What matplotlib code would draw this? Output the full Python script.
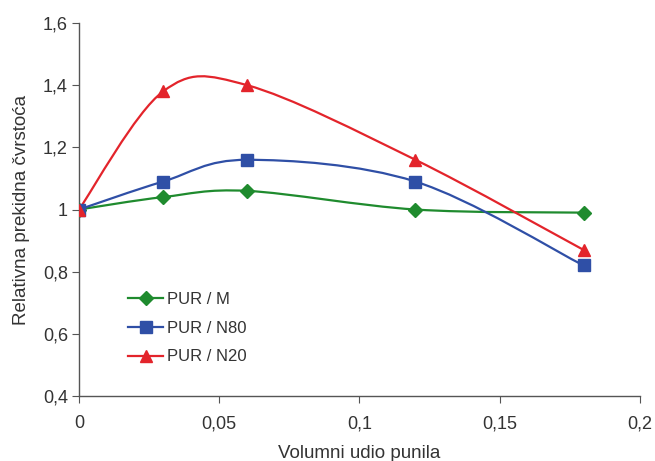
import numpy as np
import matplotlib.pyplot as plt
from matplotlib.path import Path
from matplotlib.patches import PathPatch
from matplotlib.lines import Line2D

plt.rcParams['font.family'] = ['Liberation Sans', 'DejaVu Sans']

# data
x_vals = [0, 0.03, 0.06, 0.12, 0.18]
pur_m = [1.0, 1.04, 1.06, 1.0, 0.99]
pur_n80 = [1.0, 1.09, 1.16, 1.09, 0.82]
pur_n20 = [1.0, 1.38, 1.40, 1.16, 0.87]
labels = ['PUR / M', 'PUR / N80', 'PUR / N20']

x_ticks = [0, 0.05, 0.1, 0.15, 0.2]
x_ticklabels = ['0', '0,05', '0,1', '0,15', '0,2']
y_ticks = [0.4, 0.6, 0.8, 1.0, 1.2, 1.4, 1.6]
y_ticklabels = ['0,4', '0,6', '0,8', '1', '1,2', '1,4', '1,6']

xlim = (0, 0.2)
ylim = (0.4, 1.6)

green = '#1f8b2e'
blue = '#2f4fa6'
red = '#e3242b'


# Excel-like smoothed line: cubic bezier through points (computed in axes-normalised space)
def smooth_path(xs, ys, ax_w, ax_h):
    xs = np.asarray(xs, float)
    ys = np.asarray(ys, float)
    sx = (xlim[1] - xlim[0]) / ax_w
    sy = (ylim[1] - ylim[0]) / ax_h
    p = np.column_stack(((xs - xlim[0]) / sx, (ys - ylim[0]) / sy))
    n = len(p)
    verts = [p[0]]
    codes = [Path.MOVETO]
    for i in range(n - 1):
        p0 = p[i - 1] if i > 0 else p[i]
        p1 = p[i]
        p2 = p[i + 1]
        p3 = p[i + 2] if i + 2 < n else p[i + 1]
        c1 = p1 + (p2 - p0) / 6.0
        c2 = p2 - (p3 - p1) / 6.0
        verts += [c1, c2, p2]
        codes += [Path.CURVE4] * 3
    verts = np.array(verts)
    verts[:, 0] = verts[:, 0] * sx + xlim[0]
    verts[:, 1] = verts[:, 1] * sy + ylim[0]
    return Path(verts, codes)


fig = plt.figure(figsize=(6.55, 4.61), dpi=100)
ax = fig.add_axes([0.1206, 0.141, 0.856, 0.809])
ax.set_xlim(*xlim)
ax.set_ylim(*ylim)

ax_w = 0.856 * 655
ax_h = 0.809 * 461

series = [(pur_m, green, 'D', 7), (pur_n80, blue, 's', 9), (pur_n20, red, '^', 9)]
handles = []
for (ys, col, mk, ms), lab in zip(series, labels):
    path = smooth_path(x_vals, ys, ax_w, ax_h)
    ax.add_patch(PathPatch(path, facecolor='none', edgecolor=col, lw=1.6, zorder=2))
    ax.plot(x_vals, ys, linestyle='none', marker=mk, markersize=ms, color=col, zorder=3)
    handles.append(Line2D([], [], color=col, lw=1.6, marker=mk, markersize=ms))

ax.set_xticks(x_ticks)
ax.set_xticklabels(x_ticklabels)
ax.set_yticks(y_ticks)
ax.set_yticklabels(y_ticklabels)

for s in ['top', 'right']:
    ax.spines[s].set_visible(False)
for s in ['left', 'bottom']:
    ax.spines[s].set_color('#555555')
    ax.spines[s].set_linewidth(1.0)
ax.tick_params(axis='both', direction='out', length=5, color='#555555', labelsize=13, labelcolor='#333333')
ax.tick_params(axis='x', pad=9)
ax.tick_params(axis='y', pad=3)

ax.set_xlabel('Volumni udio punila', fontsize=13.5, color='#333333', labelpad=9)
ax.set_ylabel('Relativna prekidna čvrstoća', fontsize=13.5, color='#333333', labelpad=9)

ax.legend(handles, labels, loc='upper left', bbox_to_anchor=(128 / 655, 1 - 292 / 461),
          bbox_transform=fig.transFigure, frameon=False, fontsize=12, handlelength=2.1,
          handletextpad=0.25, labelspacing=0.82, borderpad=0, borderaxespad=0,
          labelcolor='#333333')

fig.savefig('out.png', dpi=100)
